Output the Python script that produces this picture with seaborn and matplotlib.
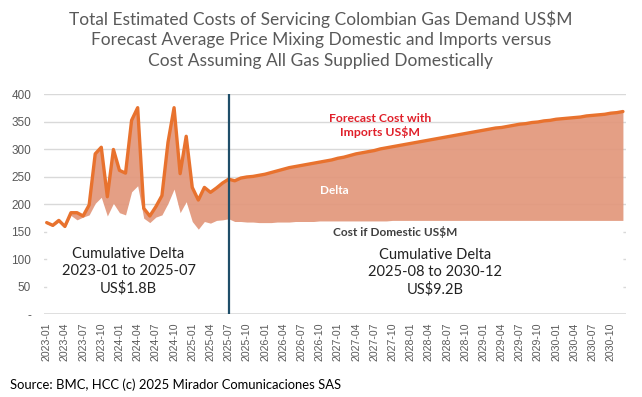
import numpy as np
import pandas as pd
import matplotlib
matplotlib.use("Agg")
import matplotlib.pyplot as plt
import seaborn as sns

# ── Data (US$M per month) ─────────────────────────────────────────────────────
months = pd.date_range("2023-01-01", "2030-12-01", freq="MS").strftime("%Y-%m").tolist()

hist_imports = [167, 162, 171, 160, 185, 185, 179, 199, 292, 304,
                214, 300, 262, 257, 353, 376, 193, 179, 196, 216,
                313, 376, 256, 324, 231, 208, 231, 222, 230, 239, 246]
hist_domestic = [165, 160, 168, 158, 180, 172, 177, 181, 202, 213,
                 179, 202, 185, 181, 223, 234, 175, 167, 177, 181,
                 202, 228, 185, 205, 169, 155, 169, 166, 171, 172, 174]

fcst_imports = [243, 248, 250, 251, 253, 255, 258, 261, 264, 267,
                269, 271, 273, 275, 277, 279, 281, 284, 286, 289,
                292, 294, 296, 298, 301, 303, 305, 307, 309, 311,
                313, 315, 317, 319, 321, 323, 325, 327, 329, 331,
                333, 335, 337, 339, 340, 342, 344, 346, 347, 349,
                350, 352, 353, 355, 356, 357, 358, 359, 361, 362,
                363, 364, 366, 367, 369]
fcst_domestic = [169, 169, 168, 168, 167, 167, 167, 168, 168, 168,
                 169, 169, 169, 169, 170, 170, 170, 170, 170, 170,
                 170, 170, 170, 170, 170, 170, 171, 171, 171, 171,
                 171, 171, 171, 171, 171, 171, 171, 171, 171, 171,
                 171, 171, 171, 171, 171, 171, 171, 171, 171, 171,
                 171, 171, 171, 171, 171, 171, 171, 171, 171, 171,
                 171, 171, 171, 171, 171]

y_ticks = [0, 50, 100, 150, 200, 250, 300, 350, 400]
y_ticklabels = ["-", "50", "100", "150", "200", "250", "300", "350", "400"]
split_month = "2025-07"

df = pd.DataFrame({
    "month": months,
    "imports": hist_imports + fcst_imports,
    "domestic": hist_domestic + fcst_domestic,
})
df["idx"] = np.arange(len(df))

# ── Style ─────────────────────────────────────────────────────────────────────
sns.set_theme(style="white")
plt.rcParams["font.family"] = ["Lato", "DejaVu Sans"]

LINE_C = "#E8722E"
FILL_C = "#E2977B"
GRID_C = "#D9D9D9"
TEXT_C = "#595959"

fig = plt.figure(figsize=(6.42, 3.97), dpi=100)
ax = fig.add_axes([0.068, 0.208, 0.907, 0.554])

ax.set_ylim(0, 400)
ax.set_xlim(-0.5, len(df) - 0.5)
for y in y_ticks[1:]:
    ax.axhline(y, color=GRID_C, lw=1, zorder=0)
ax.axhline(0, color=GRID_C, lw=1.2, zorder=4)

# white area hides gridlines under the domestic cost, salmon area is the delta
ax.fill_between(df["idx"], 0, df["domestic"], color="white", lw=0, zorder=1)
ax.fill_between(df["idx"], df["domestic"], df["imports"], color=FILL_C,
                alpha=0.92, lw=0, zorder=2)
sns.lineplot(data=df, x="idx", y="imports", color=LINE_C, lw=2.4, ax=ax, zorder=3)

split_idx = months.index(split_month)
ax.axvline(split_idx, ymin=0, ymax=1, color="#1F4E69", lw=1.6, zorder=5)

# ── Axes ──────────────────────────────────────────────────────────────────────
ax.set_yticks(y_ticks)
ax.set_yticklabels(y_ticklabels, fontsize=8.5, color=TEXT_C,
                   family=["Liberation Sans"])
tick_pos = df["idx"][::3]
ax.set_xticks(tick_pos)
ax.set_xticklabels(df["month"][::3], rotation=90, fontsize=7.6, color=TEXT_C,
                   family=["Liberation Sans"])
ax.tick_params(axis="x", length=0, pad=6)
ax.tick_params(axis="y", length=0, pad=9)
ax.set_xlabel("")
ax.set_ylabel("")
for s in ax.spines.values():
    s.set_visible(False)

# ── Annotations ───────────────────────────────────────────────────────────────
ax.text(55, 344, "Forecast Cost with\nImports US$M", color="#E0202A",
        fontsize=8.8, fontweight="bold", ha="center", va="center",
        linespacing=1.25, zorder=6)
ax.text(47.5, 225, "Delta", color="white", fontsize=8.5, fontweight="bold",
        ha="center", va="center", zorder=6)
ax.text(57.4, 149, "Cost if Domestic US$M", color="#404040", fontsize=8.6,
        fontweight="bold", ha="center", va="center", zorder=6)
ax.text(13.5, 79, "Cumulative Delta\n2023-01 to 2025-07\nUS$1.8B", color="#222222",
        fontsize=10.5, ha="center", va="center", linespacing=1.25, zorder=6)
ax.text(64, 77, "Cumulative Delta\n2025-08 to 2030-12\nUS$9.2B", color="#222222",
        fontsize=10.5, ha="center", va="center", linespacing=1.25, zorder=6)

fig.text(0.5, 0.90, "Total Estimated Costs of Servicing Colombian Gas Demand US$M\n"
         "Forecast Average Price Mixing Domestic and Imports versus\n"
         "Cost Assuming All Gas Supplied Domestically",
         ha="center", va="center", fontsize=12.5, color=TEXT_C, linespacing=1.35)
fig.text(0.016, 0.032, "Source: BMC, HCC (c) 2025 Mirador Comunicaciones SAS",
         ha="left", va="center", fontsize=9.4, color="black")

fig.savefig("out.png", dpi=100)
plt.close(fig)
